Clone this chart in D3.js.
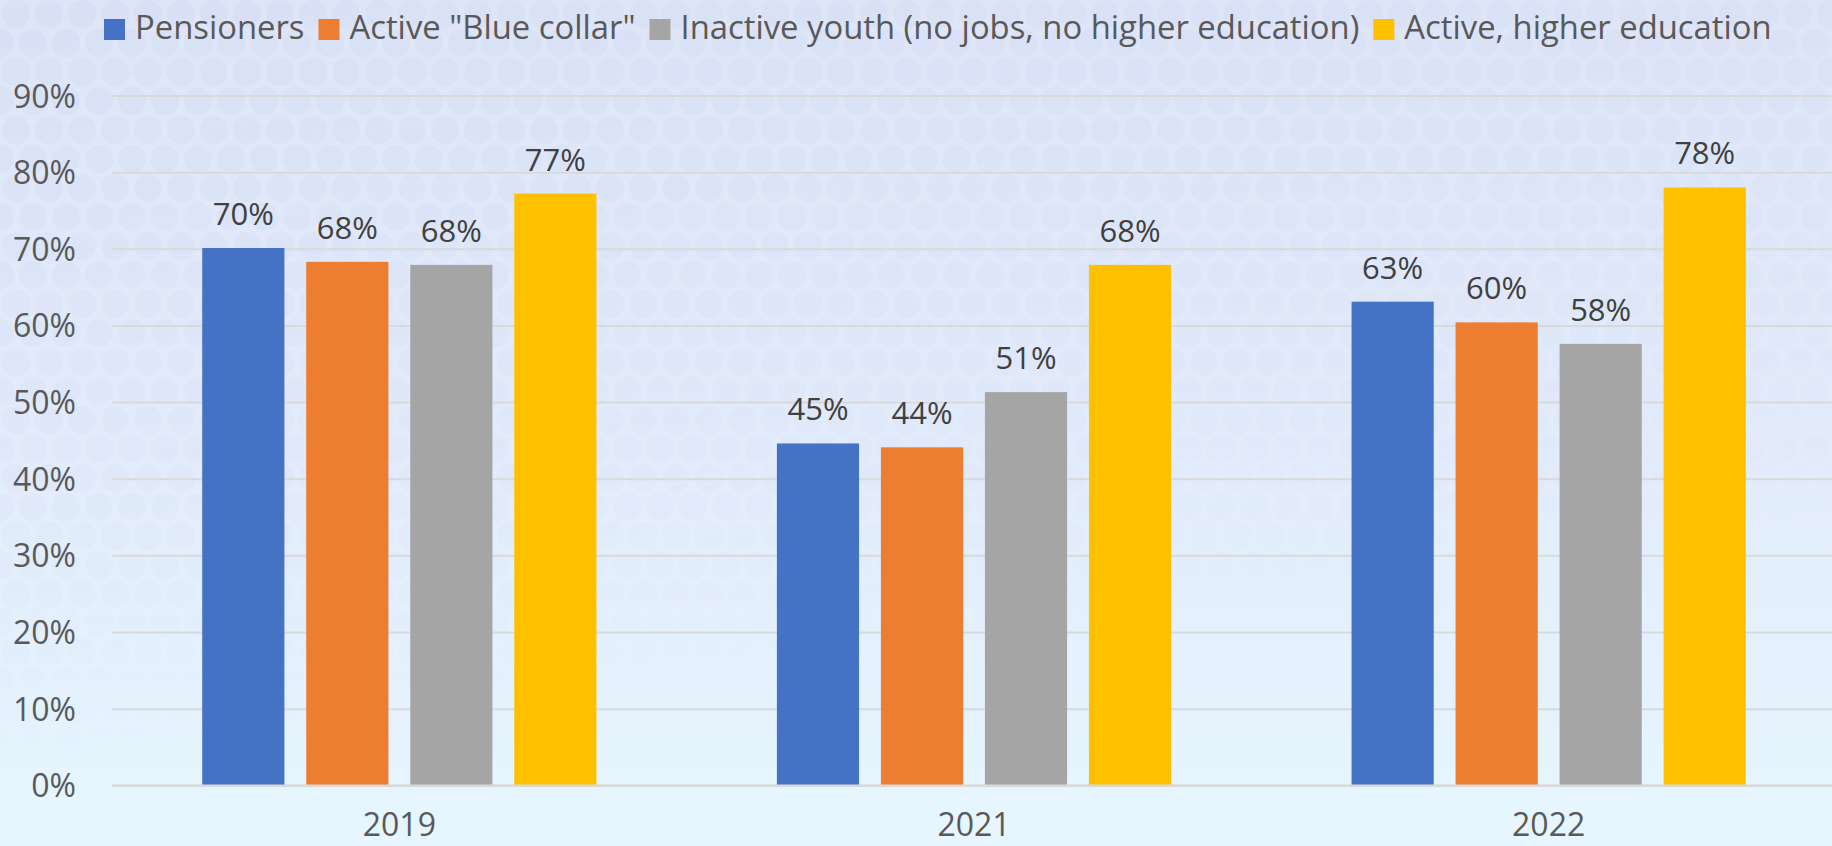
<!DOCTYPE html>
<html>
<head>
<meta charset="utf-8">
<script src="https://cdn.jsdelivr.net/npm/d3@7"></script>
<style>
  html, body { margin: 0; padding: 0; background: #e3eaf9; }
  svg { display: block; }
</style>
</head>
<body>
<svg id="chart" width="1832" height="846"></svg>
<script>
// ---- data ----
const years = ["2019", "2021", "2022"];
const seriesNames = [
  "Pensioners",
  "Active \"Blue collar\"",
  "Inactive youth (no jobs, no higher education)",
  "Active, higher education"
];
const seriesColors = ["#4472c4", "#ed7d31", "#a5a5a5", "#ffc000"];
const pensioners      = [0.701, 0.446, 0.631];
const blueCollar      = [0.683, 0.441, 0.604];
const inactiveYouth   = [0.679, 0.513, 0.576];
const higherEducation = [0.772, 0.679, 0.780];
const yTicks = [0, 0.1, 0.2, 0.3, 0.4, 0.5, 0.6, 0.7, 0.8, 0.9];

const seriesValues = [pensioners, blueCollar, inactiveYouth, higherEducation];

// ---- layout ----
const W = 1832, H = 846;
const plot = { left: 112, right: 1836, top: 95.5, bottom: 785.3 };
const svg = d3.select("#chart");
const pct = d3.format(".0%");
const font = "'Open Sans', 'Noto Sans', sans-serif";

// background gradient with a faint bubble texture
const defs = svg.append("defs");
const bg = defs.append("linearGradient").attr("id", "bgGrad")
  .attr("x1", 0).attr("y1", 0).attr("x2", 0).attr("y2", 1);
bg.append("stop").attr("offset", "0%").attr("stop-color", "#dee5f7");
bg.append("stop").attr("offset", "55%").attr("stop-color", "#e3ecfb");
bg.append("stop").attr("offset", "100%").attr("stop-color", "#e6f6fe");

const pat = defs.append("pattern").attr("id", "bubbles")
  .attr("patternUnits", "userSpaceOnUse").attr("width", 66).attr("height", 58);
[[16, 14], [49, 14], [0, 43], [33, 43], [66, 43]].forEach(([cx, cy]) => {
  pat.append("circle").attr("cx", cx).attr("cy", cy).attr("r", 14)
    .attr("fill", "#ccd6f1");
});
const fade = defs.append("linearGradient").attr("id", "fadeGrad")
  .attr("x1", 0).attr("y1", 0).attr("x2", 0.3).attr("y2", 1);
fade.append("stop").attr("offset", "0%").attr("stop-color", "#fff").attr("stop-opacity", 0.3);
fade.append("stop").attr("offset", "55%").attr("stop-color", "#fff").attr("stop-opacity", 0.14);
fade.append("stop").attr("offset", "85%").attr("stop-color", "#fff").attr("stop-opacity", 0);
defs.append("mask").attr("id", "fadeMask")
  .append("rect").attr("width", W).attr("height", H).attr("fill", "url(#fadeGrad)");

svg.append("rect").attr("width", W).attr("height", H).attr("fill", "url(#bgGrad)");
svg.append("rect").attr("width", W).attr("height", H)
  .attr("fill", "url(#bubbles)").attr("mask", "url(#fadeMask)");

// ---- scales ----
const y = d3.scaleLinear().domain([0, 0.9]).range([plot.bottom, plot.top]);
const x0 = d3.scaleBand().domain(years).range([plot.left, plot.right]).padding(0);
const x1 = d3.scaleBand().domain(d3.range(seriesNames.length))
  .range([x0.bandwidth() * 0.157, x0.bandwidth() * 0.843])
  .paddingInner(0.21).paddingOuter(0);

// ---- gridlines ----
const yAxis = d3.axisLeft(y).tickValues(yTicks).tickFormat(pct)
  .tickSize(-(plot.right - plot.left)).tickPadding(36);
const gy = svg.append("g").attr("transform", `translate(${plot.left},0)`).call(yAxis);
gy.select(".domain").remove();
gy.selectAll(".tick line").attr("stroke", "#d9d9d9").attr("stroke-width", 2);
gy.selectAll(".tick text")
  .attr("fill", "#595959").attr("font-family", font).attr("font-size", 32)
  .attr("dy", "0.36em");

// ---- bars ----
const groups = svg.append("g").selectAll("g").data(years).join("g")
  .attr("transform", d => `translate(${x0(d)},0)`);

groups.selectAll("rect")
  .data((yr, i) => seriesValues.map((vals, s) => ({ s, v: vals[i] })))
  .join("rect")
  .attr("x", d => x1(d.s))
  .attr("width", x1.bandwidth())
  .attr("y", d => y(d.v))
  .attr("height", d => y(0) - y(d.v))
  .attr("fill", d => seriesColors[d.s]);

groups.selectAll("text.val")
  .data((yr, i) => seriesValues.map((vals, s) => ({ s, v: vals[i] })))
  .join("text").attr("class", "val")
  .attr("x", d => x1(d.s) + x1.bandwidth() / 2)
  .attr("y", d => y(d.v) - 23)
  .attr("text-anchor", "middle")
  .attr("fill", "#404040").attr("font-family", font).attr("font-size", 31)
  .text(d => pct(d.v));

// ---- x axis ----
const xAxis = d3.axisBottom(x0).tickSize(0).tickPadding(0);
const gx = svg.append("g").attr("transform", `translate(0,${plot.bottom})`).call(xAxis);
gx.select(".domain").attr("stroke", "#d9d9d9").attr("stroke-width", 2.5);
gx.selectAll(".tick text")
  .attr("fill", "#595959").attr("font-family", font).attr("font-size", 32)
  .attr("dy", 0).attr("y", 51);

// ---- legend ----
const legend = svg.append("g").attr("class", "legend");
let lx = 0;
seriesNames.forEach((name, i) => {
  const item = legend.append("g").attr("transform", `translate(${lx},0)`);
  item.append("rect").attr("x", 0).attr("y", 19).attr("width", 21).attr("height", 21)
    .attr("fill", seriesColors[i]);
  const t = item.append("text").attr("x", 31).attr("y", 39)
    .attr("fill", "#595959").attr("font-family", font).attr("font-size", 32.8)
    .text(name);
  lx += 31 + t.node().getComputedTextLength() + 14;
});
legend.attr("transform", `translate(${104},0)`);
</script>
</body>
</html>
